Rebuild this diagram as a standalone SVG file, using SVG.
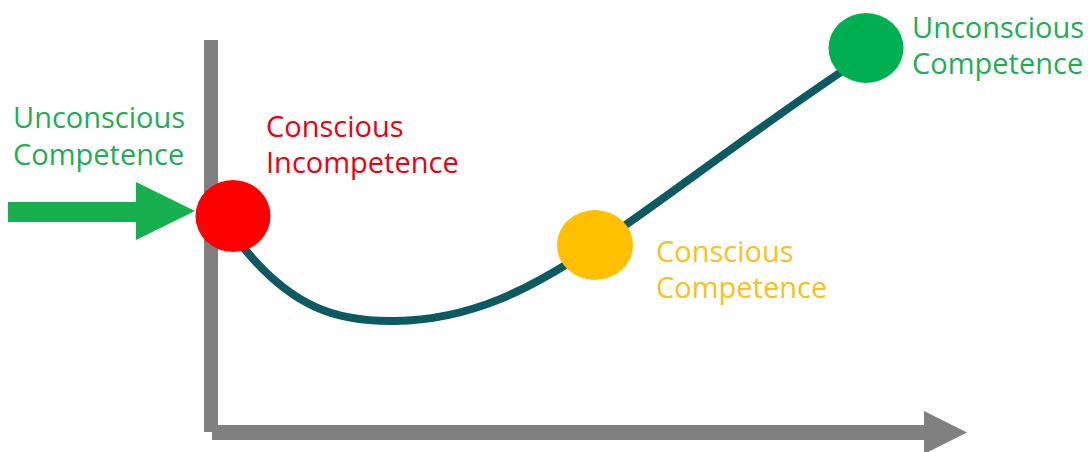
<svg xmlns="http://www.w3.org/2000/svg" width="1088" height="452" viewBox="0 0 1088 452">
<style>
.lbl{font-family:"Open Sans","Liberation Sans",sans-serif;font-size:29px}
.g{fill:#1fae55}
.r{fill:#ee0010}
.y{fill:#fbc11a}
.axis{fill:#808080}
</style>
<rect width="1088" height="452" fill="#ffffff"/>
<g id="axes">
<rect class="axis" x="204" y="40" width="14" height="392"/>
<rect class="axis" x="212" y="425" width="713" height="15"/>
<polygon class="axis" points="924,411 967,432.5 924,454"/>
</g>
<g id="connectors">
<path d="M236 238 C290 310 340 322 395 321 C470 320 530 290 595 246 C660 203 760 125 862 58" fill="none" stroke="#0d5a63" stroke-width="8" stroke-linecap="round"/>
<polygon id="entry-arrow" fill="#17b04f" points="8,202 136,202 136,182 195,211 136,240 136,222 8,222"/>
</g>
<g id="node-entry">
<text class="lbl g" x="13" y="128">Unconscious</text>
<text class="lbl g" x="13" y="165">Competence</text>
</g>
<g id="node-conscious-incompetence">
<ellipse cx="233" cy="216" rx="37.5" ry="36" fill="#ff0000"/>
<text class="lbl r" x="266" y="137">Conscious</text>
<text class="lbl r" x="266" y="173">Incompetence</text>
</g>
<g id="node-conscious-competence">
<ellipse cx="595" cy="245" rx="38" ry="35" fill="#ffc000"/>
<text class="lbl y" x="656" y="262">Conscious</text>
<text class="lbl y" x="656" y="298">Competence</text>
</g>
<g id="node-unconscious-competence">
<ellipse cx="866" cy="48" rx="37.5" ry="35" fill="#00b050"/>
<text class="lbl g" x="912" y="38">Unconscious</text>
<text class="lbl g" x="912" y="74">Competence</text>
</g>
</svg>
